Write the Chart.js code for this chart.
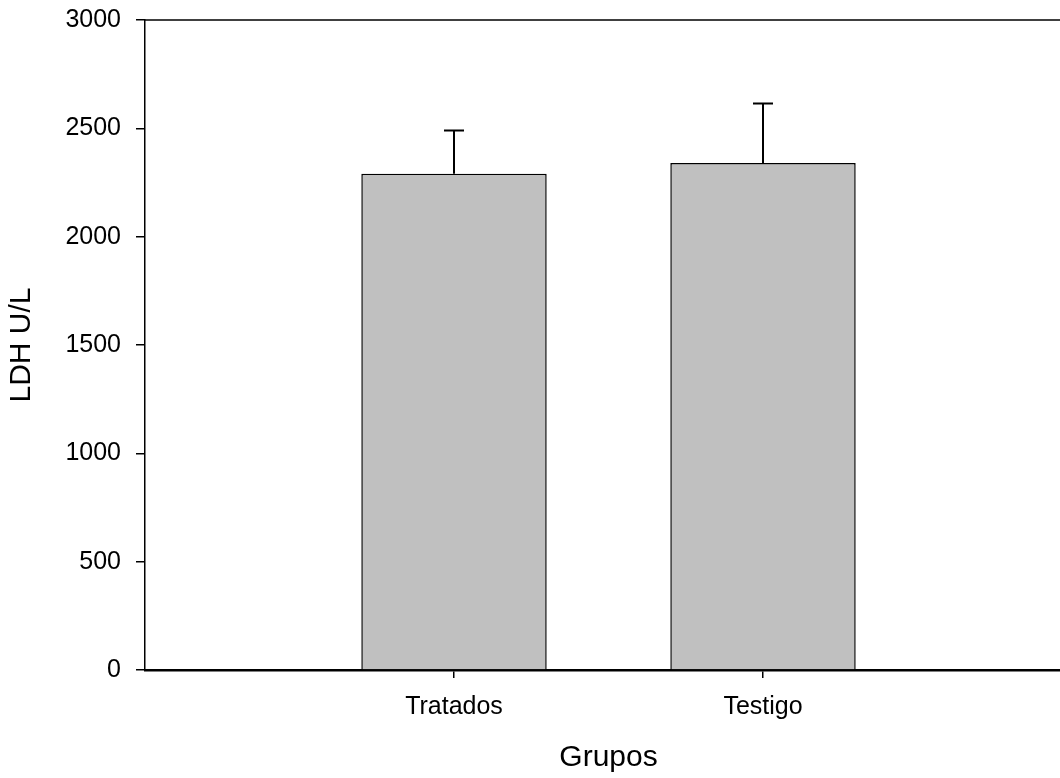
<!DOCTYPE html>
<html>
<head>
<meta charset="utf-8">
<script src="https://cdn.jsdelivr.net/npm/chart.js@4.4.1/dist/chart.umd.min.js"></script>
<style>
  html, body { margin: 0; padding: 0; background: #fff; overflow: hidden; }
  #wrap { width: 1060px; height: 778px; overflow: hidden; position: relative; }
  #box { width: 1080px; height: 778px; }
</style>
</head>
<body>
<div id="wrap"><div id="box"><canvas id="c"></canvas></div></div>
<script>
// LDH by group: means and standard-deviation whiskers
const categories = ['Tratados', 'Testigo'];
const ldhMeans = [2290, 2340];
const ldhErrors = [200, 275];
const yTicks = [0, 500, 1000, 1500, 2000, 2500, 3000];

const FONT = '"Liberation Sans", Arial, sans-serif';

// whiskers drawn upward from each bar top
const errorBars = {
  id: 'errorBars',
  afterDatasetsDraw(chart) {
    const ctx = chart.ctx;
    const yScale = chart.scales.y;
    const meta = chart.getDatasetMeta(0);
    ctx.save();
    ctx.strokeStyle = '#000';
    ctx.lineWidth = 2;
    meta.data.forEach((bar, i) => {
      const top = yScale.getPixelForValue(ldhMeans[i] + ldhErrors[i]);
      const base = yScale.getPixelForValue(ldhMeans[i]);
      ctx.beginPath();
      ctx.moveTo(bar.x, base);
      ctx.lineTo(bar.x, top);
      ctx.moveTo(bar.x - 10, top);
      ctx.lineTo(bar.x + 10, top);
      ctx.stroke();
    });
    ctx.restore();
  }
};

// top frame line of the plot area
const topFrame = {
  id: 'topFrame',
  afterDraw(chart) {
    const { ctx, chartArea } = chart;
    ctx.save();
    ctx.strokeStyle = '#000';
    ctx.lineWidth = 1.5;
    ctx.beginPath();
    ctx.moveTo(chartArea.left - 0.75, chartArea.top);
    ctx.lineTo(chartArea.right + 10, chartArea.top);
    ctx.stroke();
    ctx.restore();
  }
};

new Chart(document.getElementById('c'), {
  type: 'bar',
  data: {
    datasets: [{
      data: categories.map((c, i) => ({ x: i + 1, y: ldhMeans[i] })),
      backgroundColor: '#c0c0c0',
      borderColor: '#000',
      borderWidth: 1.5,
      borderSkipped: 'bottom',
      barPercentage: 0.6,
      categoryPercentage: 1.0
    }]
  },
  options: {
    responsive: true,
    maintainAspectRatio: false,
    animation: false,
    layout: { padding: { top: 20, right: 8, left: 0, bottom: 0 } },
    plugins: { legend: { display: false }, tooltip: { enabled: false } },
    scales: {
      x: {
        type: 'linear',
        min: 0,
        max: 3,
        offset: false,
        afterBuildTicks(scale) {
          scale.ticks = categories.map((c, i) => ({ value: i + 1 }));
        },
        afterFit(scale) {
          scale.height = 108;
          scale.paddingLeft = 0;
          scale.paddingRight = 0;
        },
        ticks: {
          callback: (v) => categories[v - 1] || '',
          color: '#000',
          font: { family: FONT, size: 25 },
          padding: 14,
          maxRotation: 0
        },
        grid: { display: true, offset: false, drawOnChartArea: false, drawTicks: true, tickLength: 8, color: '#000', lineWidth: 1.5 },
        border: { display: true, color: '#000', width: 2.5 },
        title: {
          display: true,
          text: 'Grupos',
          color: '#000',
          font: { family: FONT, size: 30 },
          padding: { top: 0, bottom: 2 }
        }
      },
      y: {
        min: 0,
        max: 3000,
        afterBuildTicks(scale) {
          scale.ticks = yTicks.map(v => ({ value: v }));
        },
        afterFit(scale) {
          scale.width = 145;
          scale.paddingTop = 0;
          scale.paddingBottom = 0;
        },
        ticks: {
          callback: (v) => String(v),
          color: '#000',
          font: { family: FONT, size: 25 },
          padding: 15
        },
        grid: { display: true, drawOnChartArea: false, drawTicks: true, tickLength: 9, color: '#000', lineWidth: 1.5 },
        border: { display: true, color: '#000', width: 1.5 },
        title: {
          display: true,
          text: 'LDH U/L',
          color: '#000',
          font: { family: FONT, size: 30 },
          padding: { top: 4, bottom: 0 }
        }
      }
    }
  },
  plugins: [errorBars, topFrame]
});
</script>
</body>
</html>
